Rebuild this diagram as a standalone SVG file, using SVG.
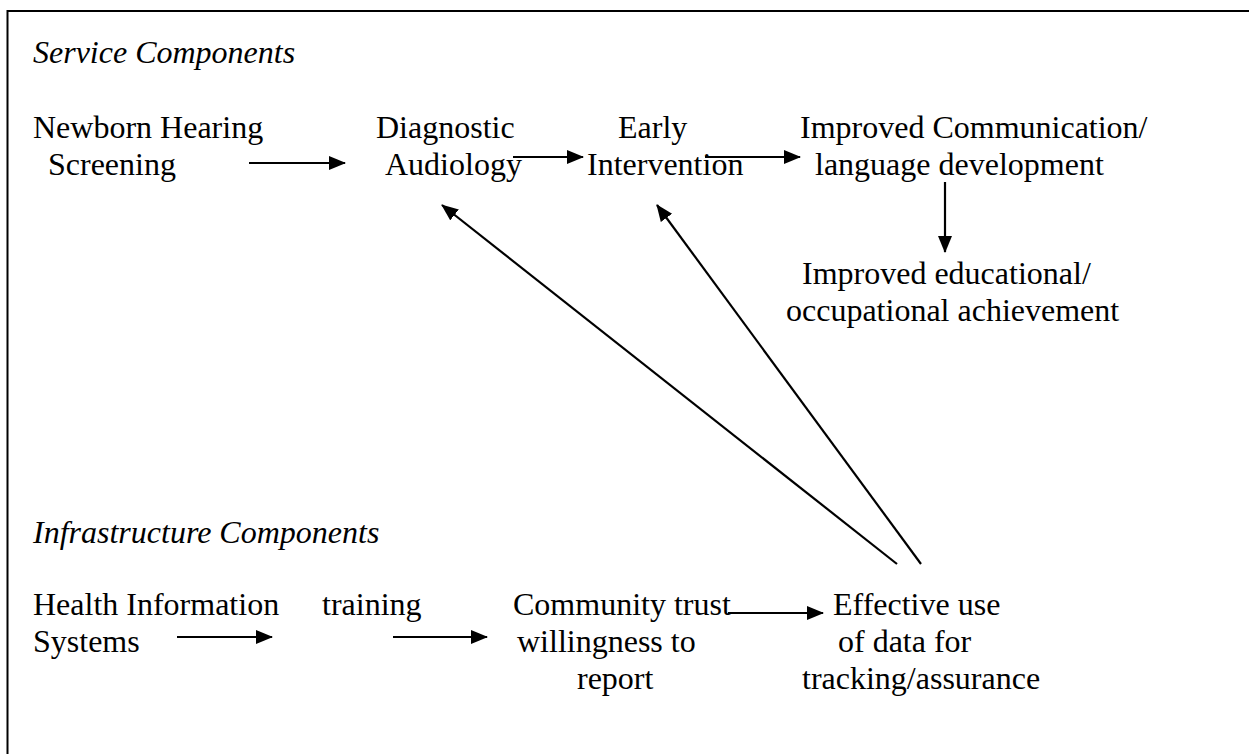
<svg xmlns="http://www.w3.org/2000/svg" width="1249" height="754" viewBox="0 0 1249 754">
  <style>
    text { font-family: "Liberation Serif", "Times New Roman", serif; font-size: 32px; fill: #000; }
    .head { font-style: italic; }
    .conn { stroke: #000; stroke-width: 2.2; fill: none; marker-end: url(#arrow); }
  </style>
  <defs>
    <marker id="arrow" markerUnits="userSpaceOnUse" markerWidth="18" markerHeight="16" refX="16" refY="7" orient="auto">
      <path d="M0,0 L17,7 L0,14 Z" fill="#000"/>
    </marker>
  </defs>

  <rect width="1249" height="754" fill="#fff"/>
  <!-- outer frame (right and bottom edges run past the page) -->
  <rect x="7.5" y="11" width="1270" height="780" fill="none" stroke="#000" stroke-width="2"/>

  <!-- section headings -->
  <text class="head" x="33" y="63">Service Components</text>
  <text class="head" x="33" y="543">Infrastructure Components</text>

  <!-- service components -->
  <g id="newborn-screening">
    <text x="33" y="138">Newborn Hearing</text>
    <text x="48" y="175">Screening</text>
  </g>
  <g id="diagnostic-audiology">
    <text x="376" y="138">Diagnostic</text>
    <text x="385" y="175">Audiology</text>
  </g>
  <g id="early-intervention">
    <text x="618" y="138">Early</text>
    <text x="587" y="175">Intervention</text>
  </g>
  <g id="communication">
    <text x="800" y="138">Improved Communication/</text>
    <text x="815" y="175">language development</text>
  </g>
  <g id="achievement">
    <text x="802" y="284">Improved educational/</text>
    <text x="786" y="321">occupational achievement</text>
  </g>

  <!-- infrastructure components -->
  <g id="health-info">
    <text x="33" y="615">Health Information</text>
    <text x="33" y="652">Systems</text>
  </g>
  <g id="training">
    <text x="322" y="615">training</text>
  </g>
  <g id="community-trust">
    <text x="513" y="615">Community trust</text>
    <text x="517" y="652">willingness to</text>
    <text x="577" y="689">report</text>
  </g>
  <g id="data-use">
    <text x="833" y="615">Effective use</text>
    <text x="838" y="652">of data for</text>
    <text x="802" y="689">tracking/assurance</text>
  </g>

  <!-- connectors -->
  <g id="connectors">
    <line class="conn" x1="249" y1="163" x2="345" y2="163"/>
    <line class="conn" x1="513" y1="157" x2="583" y2="157"/>
    <line class="conn" x1="705" y1="157" x2="800" y2="157"/>
    <line class="conn" x1="945" y1="182" x2="945" y2="252"/>
    <line class="conn" x1="177" y1="637" x2="272" y2="637"/>
    <line class="conn" x1="393" y1="637" x2="487" y2="637"/>
    <line class="conn" x1="728" y1="613" x2="823" y2="613"/>
    <line class="conn" x1="897" y1="564" x2="442" y2="205"/>
    <line class="conn" x1="921" y1="564" x2="657" y2="205"/>
  </g>
</svg>
